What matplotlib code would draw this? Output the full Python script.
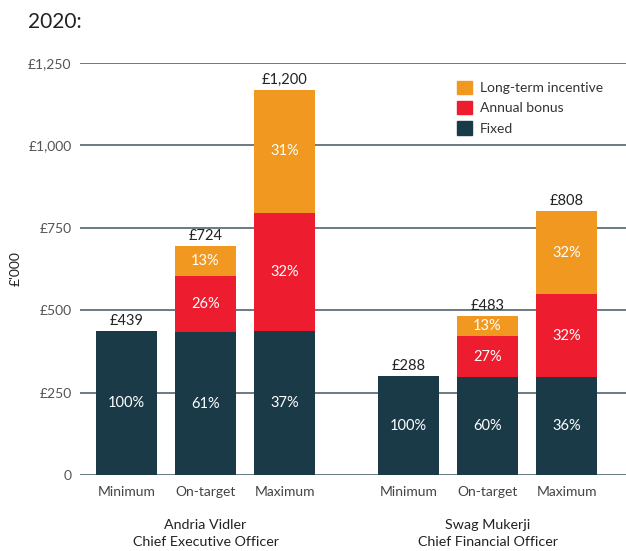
import matplotlib
matplotlib.use("Agg")
import matplotlib.pyplot as plt
from matplotlib.patches import Patch

plt.rcParams['font.family'] = ['Lato', 'DejaVu Sans']

categories = ["Minimum", "On-target", "Maximum"]
executives = ["Andria Vidler\nChief Executive Officer", "Swag Mukerji\nChief Financial Officer"]
fixed = [436, 433, 436, 300, 298, 298]
bonus = [0, 170, 360, 0, 123, 250]
lti = [0, 91, 372, 0, 61, 252]
total_labels = ["£439", "£724", "£1,200", "£288", "£483", "£808"]
pct_fixed = ["100%", "61%", "37%", "100%", "60%", "36%"]
pct_bonus = ["", "26%", "32%", "", "27%", "32%"]
pct_lti = ["", "13%", "31%", "", "13%", "32%"]
yticks = [0, 250, 500, 750, 1000, 1250]
ytick_labels = ["0", "£250", "£500", "£750", "£1,000", "£1,250"]

C_FIXED = "#1b3a48"
C_BONUS = "#ed1c2e"
C_LTI = "#f0981f"
GRID = "#5f717b"

fig = plt.figure(figsize=(6.26, 5.51), dpi=100)
ax = fig.add_axes([80/626, 75.7/551, 546/626, (475.3-62.7)/551])

xs = [0, 1, 2, 3.57, 4.57, 5.57]
w = 0.772

for y in yticks:
    ax.axhline(y, color=GRID, lw=1.3, zorder=0)

ax.bar(xs, fixed, width=w, color=C_FIXED, zorder=2)
ax.bar(xs, bonus, width=w, bottom=fixed, color=C_BONUS, zorder=2)
b3 = [f + b for f, b in zip(fixed, bonus)]
ax.bar(xs, lti, width=w, bottom=b3, color=C_LTI, zorder=2)

for i, x in enumerate(xs):
    ax.text(x, fixed[i]/2, pct_fixed[i], ha='center', va='center', color='white', fontsize=10.5)
    if bonus[i]:
        ax.text(x, fixed[i] + bonus[i]/2, pct_bonus[i], ha='center', va='center', color='white', fontsize=10.5)
    if lti[i]:
        ax.text(x, b3[i] + lti[i]/2, pct_lti[i], ha='center', va='center', color='white', fontsize=10.5)
    top = b3[i] + lti[i]
    ax.text(x, top + 10, total_labels[i], ha='center', va='bottom', color='#222222', fontsize=10.5)

ax.set_xlim(-0.589, 6.323)
ax.set_ylim(0, 1250)
ax.set_yticks(yticks)
ax.set_yticklabels(ytick_labels, color='#555555', fontsize=10)
ax.set_xticks(xs)
ax.set_xticklabels(categories * 2, color='#444444', fontsize=10)
ax.tick_params(axis='both', length=0)
ax.tick_params(axis='y', pad=6)
ax.tick_params(axis='x', pad=8)
for s in ax.spines.values():
    s.set_visible(False)

for gi, name in enumerate(executives):
    ax.text(xs[gi*3 + 1], -(519 - 475.3)/412.6, name, transform=ax.get_xaxis_transform(),
            ha='center', va='top', color='#222222', fontsize=10.3, linespacing=1.45)

ax.set_ylabel("£'000", color='#222222', fontsize=10)
ax.yaxis.set_label_coords(-0.107, 0.5)

fig.text(28/626, 1 - 22/551, "2020:", ha='left', va='center', fontsize=15, color='#222222')

handles = [Patch(color=C_LTI, label='Long-term incentive'),
           Patch(color=C_BONUS, label='Annual bonus'),
           Patch(color=C_FIXED, label='Fixed')]
ax.legend(handles=handles, loc='upper left', bbox_to_anchor=((451-80)/546, 1 - (75-62.7)/412.6),
          frameon=False, fontsize=10, handlelength=1.1, handleheight=1.1, handletextpad=0.6,
          labelspacing=0.5, borderaxespad=0, labelcolor='#333333')

fig.savefig("out.png", dpi=100)
